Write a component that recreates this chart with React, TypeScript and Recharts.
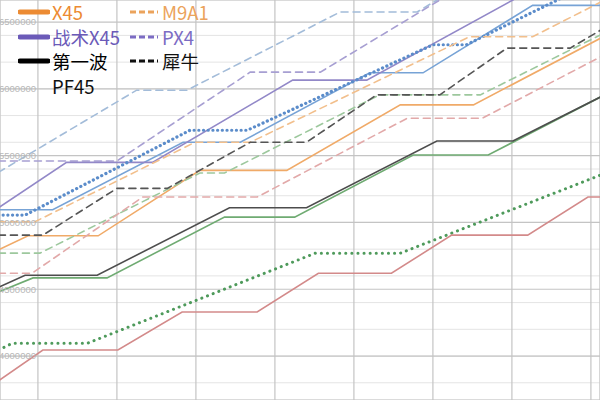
import { LineChart, Line, XAxis, YAxis, CartesianGrid, Legend } from "recharts";

type Pt = [number, number]; // [day, price]

// ---- series values ----
const X45: Pt[] = [[-2, 4795000], [-0.5, 4900000], [3.05, 4900000], [8.2, 5390000], [12.6, 5390000], [18.35, 5880000], [22.05, 5880000], [28.5, 6380000]];
const M9A1: Pt[] = [[-2, 5005000], [-0.15, 5005000], [7.95, 5600000], [10.75, 5600000], [21.85, 6390000], [25.05, 6390000], [28.5, 6650000]];
const TACTICAL_X45: Pt[] = [[-2, 5110000], [1.45, 5450000], [5.8, 5450000], [12.9, 6065000], [16.65, 6065000], [24.05, 6665000], [26.45, 6875000]];
const PX4: Pt[] = [[-2, 5460000], [4, 5460000], [10.75, 6125000], [14.3, 6125000], [20.35, 6665000], [21.85, 6800000]];
const FIRST_WAVE: Pt[] = [[-2, 4515000], [-0.65, 4605000], [3, 4605000], [9.7, 5110000], [13.6, 5110000], [20.2, 5610000], [24.05, 5610000], [28.5, 5940000]];
const RHINO: Pt[] = [[-2, 4905000], [0.25, 4905000], [4, 5255000], [6.55, 5255000], [10.75, 5600000], [13.6, 5600000], [17.15, 5955000], [20.35, 5955000], [23.75, 6305000], [26.95, 6305000], [28.5, 6440000]];
const BLUE_SOLID: Pt[] = [[-2, 5095000], [0.75, 5095000], [7.35, 5600000], [10.25, 5600000], [16.8, 6120000], [19.5, 6120000], [25.05, 6625000], [28.5, 6625000]];
const BLUE_DASH: Pt[] = [[-2, 5375000], [5, 5990000], [7.55, 5990000], [15.3, 6575000], [19.2, 6575000], [20.6, 6700000]];
const BLUE_DOT: Pt[] = [[-2, 5055000], [-0.65, 5055000], [7.7, 5690000], [10.6, 5690000], [20, 6330000], [21.7, 6330000], [26.3, 6665000], [27.45, 6755000]];
const GREEN_SOLID: Pt[] = [[-2, 4480000], [-0.25, 4585000], [3.5, 4585000], [9.45, 5040000], [13, 5040000], [19, 5505000], [22.8, 5505000], [28.5, 5940000]];
const GREEN_DASH: Pt[] = [[-2, 4770000], [0.1, 4770000], [8.2, 5370000], [9.45, 5370000], [17.3, 5955000], [22.4, 5955000], [28.5, 6405000]];
const GREEN_DOT: Pt[] = [[-2, 4045000], [-1.3, 4095000], [2.5, 4095000], [14.05, 4770000], [18.35, 4770000], [28.5, 5355000]];
const RED_SOLID: Pt[] = [[-2, 3815000], [0.25, 4045000], [4.05, 4045000], [7.3, 4330000], [11.1, 4330000], [14.2, 4620000], [17.9, 4620000], [20.95, 4905000], [24.8, 4905000], [27.85, 5190000], [28.5, 5190000]];
const RED_DASH: Pt[] = [[-2, 4620000], [-0.3, 4620000], [5.3, 5190000], [11.1, 5190000], [18.7, 5780000], [22.5, 5780000], [28.5, 6240000]];

// ---- axes ----
const X_DOMAIN: [number, number] = [-1.92, 28.46];
const Y_DOMAIN: [number, number] = [3671000, 6665000];
const X_MAJOR = [0, 4, 8, 12, 16, 20, 24, 28];
const Y_MAJOR = [4000000, 4500000, 5000000, 5500000, 6000000, 6500000];
const X_MINOR = Array.from({ length: 31 }, (_, i) => i - 2);
const Y_MINOR = Array.from({ length: 31 }, (_, i) => 3700000 + i * 100000);

type Series = { key: string; name: string; data: Pt[]; color: string; dash?: string; width?: number };

// drawn back to front
const SERIES: Series[] = [
  { key: "bd", name: "蓝虚线", data: BLUE_DASH, color: "#a3bcd9", dash: "7 5" },
  { key: "px4", name: "PX4", data: PX4, color: "#a79fd2", dash: "7 5" },
  { key: "bs", name: "蓝实线", data: BLUE_SOLID, color: "#77a3d6" },
  { key: "tx45", name: "战术X45", data: TACTICAL_X45, color: "#9288c8" },
  { key: "bdot", name: "蓝点线", data: BLUE_DOT, color: "#5b8cca", dash: "0.1 4.6", width: 3.2 },
  { key: "m9a1", name: "M9A1", data: M9A1, color: "#f2bf8c", dash: "7 5" },
  { key: "x45", name: "X45", data: X45, color: "#f0aa68" },
  { key: "gd", name: "绿虚线", data: GREEN_DASH, color: "#9dc89d", dash: "7 5" },
  { key: "rd", name: "红虚线", data: RED_DASH, color: "#e2a9a9", dash: "7 5" },
  { key: "gs", name: "绿实线", data: GREEN_SOLID, color: "#6fab72" },
  { key: "rhino", name: "犀牛", data: RHINO, color: "#555555", dash: "7 5" },
  { key: "fw", name: "第一波", data: FIRST_WAVE, color: "#4d4d4d" },
  { key: "gdot", name: "绿点线", data: GREEN_DOT, color: "#4e9a5b", dash: "0.1 6", width: 3 },
  { key: "rs", name: "红实线", data: RED_SOLID, color: "#d38a8a" },
];

const LEGEND = [
  { name: "X45", color: "#ec8b33", dashed: false },
  { name: "M9A1", color: "#eba35c", dashed: true },
  { name: "战术X45", color: "#6b5ab8", dashed: false },
  { name: "PX4", color: "#7c6cc4", dashed: true },
  { name: "第一波", color: "#000000", dashed: false },
  { name: "犀牛", color: "#111111", dashed: true },
  { name: "PF45", color: "none", dashed: false },
];

const FONT = '"Noto Sans CJK SC", "Noto Sans", sans-serif';

function LegendBox() {
  return (
    <div style={{ display: "grid", gridTemplateColumns: "110px 120px", gridAutoRows: "24.5px", fontFamily: FONT, fontSize: 18.5, lineHeight: 1 }}>
      {LEGEND.map((item) => (
        <div key={item.name} style={{ display: "flex", alignItems: "center" }}>
          <svg width={32} height={10} style={{ flex: "none" }}>
            {item.color !== "none" && (
              <line
                x1={2} y1={5} x2={30} y2={5}
                stroke={item.color}
                strokeWidth={item.dashed ? 3 : 5}
                strokeLinecap={item.dashed ? "butt" : "round"}
                strokeDasharray={item.dashed ? "6 3" : undefined}
              />
            )}
          </svg>
          <span style={{ marginLeft: 2, color: item.color === "none" ? "#111" : item.color, whiteSpace: "nowrap" }}>{item.name}</span>
        </div>
      ))}
    </div>
  );
}

function YTick({ y, payload }: any) {
  return (
    <text x={36} y={y} dy={3.3} textAnchor="end" fontSize={9.5} fill="#b8b8b8" fontFamily='"Liberation Sans", sans-serif'>
      {payload.value}
    </text>
  );
}

export default function App() {
  return (
    <div style={{ position: "absolute", left: 0, top: 0, width: 600, height: 400, background: "#fff" }}>
      <LineChart width={600} height={400} margin={{ top: 0, right: 0, bottom: 0, left: 0 }}>
        <XAxis xAxisId="minor" type="number" domain={X_DOMAIN} ticks={X_MINOR} allowDataOverflow hide />
        <YAxis yAxisId="minor" type="number" domain={Y_DOMAIN} ticks={Y_MINOR} allowDataOverflow hide />
        <XAxis dataKey="t" type="number" domain={X_DOMAIN} ticks={X_MAJOR} allowDataOverflow hide />
        <YAxis
          type="number"
          domain={Y_DOMAIN}
          ticks={Y_MAJOR}
          allowDataOverflow
          mirror
          axisLine={false}
          tickLine={false}
          tick={YTick}
        />
        <CartesianGrid xAxisId="minor" yAxisId="minor" stroke="#e4e4e4" strokeWidth={1} />
        <CartesianGrid stroke="#c4c4c4" strokeWidth={1.2} />
        {SERIES.map((s) => (
          <Line
            key={s.key}
            name={s.name}
            data={s.data.map(([t, v]) => ({ t, v }))}
            dataKey="v"
            type="linear"
            stroke={s.color}
            strokeWidth={s.width ?? 1.6}
            strokeDasharray={s.dash}
            strokeLinecap="round"
            dot={false}
            activeDot={false}
            isAnimationActive={false}
          />
        ))}
        <Legend
          layout="horizontal"
          verticalAlign="middle"
          align="center"
          wrapperStyle={{ top: 0, left: 18, width: 240 }}
          content={() => <LegendBox />}
        />
      </LineChart>
    </div>
  );
}
